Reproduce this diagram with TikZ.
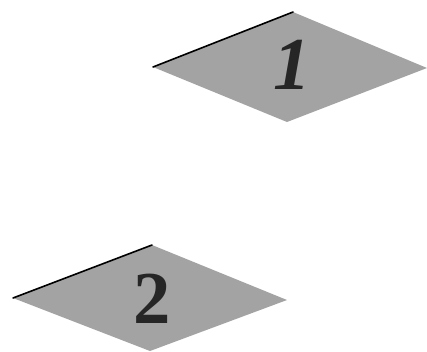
\documentclass[tikz,border=0pt]{standalone}
\usepackage{fontspec}
\setmainfont{Liberation Serif}
\tikzset{
  tile/.style={fill=black!36},
  tileedge/.style={line width=1.2pt, line cap=round},
  digit/.style={font=\fontsize{56}{56}\selectfont\bfseries, text=black!85}
}
\begin{document}
\begin{tikzpicture}[x=0.75pt,y=-0.75pt]
\useasboundingbox (0,0) rectangle (427,351);
\fill[tile] (153,67) -- (293,12) -- (427,68) -- (287,122) -- cycle;
\draw[tileedge] (153,67) -- (293,12);
\node[digit, font=\fontsize{56}{56}\selectfont\bfseries\itshape] (one) at (292,65) {1};
\fill[tile] (13,298) -- (152,245) -- (287,300) -- (150,351) -- cycle;
\draw[tileedge] (13,298) -- (152,245);
\node[digit] (two) at (152,299) {2};
\end{tikzpicture}
\end{document}
